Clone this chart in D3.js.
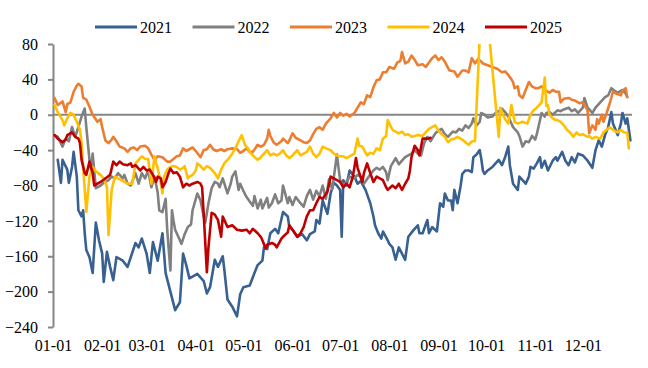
<!DOCTYPE html>
<html>
<head>
<meta charset="utf-8">
<script src="https://cdn.jsdelivr.net/npm/d3@7"></script>
<style>
  body { margin: 0; background: #fff; }
</style>
</head>
<body>
<div id="chart"></div>
<script>
// month tick labels and their day-of-year
var monthLabels = ["01-01", "02-01", "03-01", "04-01", "05-01", "06-01", "07-01", "08-01", "09-01", "10-01", "11-01", "12-01"];
var monthDays = [0, 31, 59, 90, 120, 151, 181, 212, 243, 273, 304, 334];
var yTicks = [-240, -200, -160, -120, -80, -40, 0, 40, 80];

var seriesNames = ["2021", "2022", "2023", "2024", "2025"];
var seriesColors = ["#386192", "#808080", "#ed7d31", "#ffc000", "#c00000"];

var fontFamily = "'Liberation Serif', 'Times New Roman', 'DejaVu Serif', serif";

// [day of year, value]
var s2021 = [[3,-51],[5,-77],[6,-51],[9,-62],[10,-77],[12,-59],[13,-42],[15,-70],[16,-108],[18,-115],[19,-108],[20,-134],[21,-153],[23,-161],[25,-179],[27,-122],[29,-142],[31,-157],[32,-189],[34,-155],[36,-172],[38,-187],[40,-161],[44,-165],[47,-172],[52,-145],[54,-150],[56,-140],[59,-157],[61,-179],[63,-144],[66,-165],[69,-134],[71,-179],[74,-200],[77,-221],[80,-212],[82,-157],[84,-170],[86,-185],[91,-180],[95,-188],[97,-202],[99,-195],[102,-164],[104,-172],[107,-160],[108,-175],[110,-209],[113,-217],[116,-228],[118,-203],[120,-195],[124,-193],[127,-179],[129,-170],[132,-165],[133,-150],[135,-152],[137,-134],[140,-129],[142,-134],[145,-110],[148,-115],[149,-127],[151,-130],[154,-138],[157,-135],[160,-142],[162,-135],[165,-132],[166,-119],[168,-123],[170,-97],[173,-112],[175,-89],[177,-77],[179,-80],[181,-85],[182,-138],[183,-74],[185,-80],[187,-63],[190,-70],[192,-78],[194,-75],[197,-85],[200,-100],[202,-115],[203,-125],[205,-134],[207,-140],[208,-132],[211,-142],[212,-146],[214,-150],[216,-164],[218,-150],[220,-157],[222,-164],[224,-138],[227,-131],[230,-125],[231,-134],[233,-134],[236,-119],[237,-134],[239,-127],[242,-132],[244,-100],[246,-104],[247,-89],[249,-97],[251,-97],[252,-108],[253,-85],[255,-100],[257,-80],[258,-67],[260,-63],[262,-63],[264,-65],[265,-48],[267,-45],[269,-40],[270,-50],[271,-63],[272,-67],[274,-63],[277,-59],[279,-55],[281,-51],[283,-57],[285,-48],[287,-36],[288,-57],[290,-78],[293,-85],[294,-70],[296,-74],[298,-78],[300,-70],[301,-59],[303,-61],[305,-55],[307,-48],[308,-60],[310,-52],[312,-63],[315,-52],[317,-48],[318,-52],[321,-42],[323,-52],[325,-57],[327,-48],[329,-54],[331,-44],[334,-46],[335,-48],[337,-52],[340,-60],[342,-40],[344,-29],[346,-36],[348,-23],[350,-14],[352,3],[353,-10],[356,-23],[358,-10],[359,2],[361,-10],[362,-4],[364,-29]];

var s2022 = [[1,-23],[3,-25],[6,-36],[8,-27],[10,-30],[12,-14],[14,-25],[16,-14],[18,-2],[20,7],[21,-14],[23,-51],[24,-62],[25,-44],[27,-83],[30,-80],[32,-77],[35,-74],[37,-70],[39,-72],[41,-66],[44,-72],[45,-68],[47,-78],[49,-80],[52,-66],[54,-78],[56,-66],[58,-72],[60,-63],[62,-82],[64,-70],[66,-88],[67,-108],[69,-110],[71,-95],[72,-130],[74,-176],[75,-108],[76,-120],[77,-130],[80,-142],[81,-146],[83,-135],[85,-127],[87,-124],[88,-108],[91,-89],[93,-97],[95,-115],[96,-122],[98,-100],[100,-83],[102,-76],[104,-78],[105,-82],[107,-72],[110,-89],[112,-78],[113,-70],[115,-64],[117,-85],[118,-78],[120,-86],[122,-93],[124,-98],[126,-103],[127,-92],[129,-106],[131,-96],[132,-106],[135,-94],[136,-105],[138,-100],[140,-90],[142,-100],[144,-97],[145,-80],[148,-100],[149,-93],[151,-102],[153,-93],[156,-100],[158,-104],[160,-92],[162,-85],[164,-96],[166,-86],[168,-92],[170,-80],[172,-95],[174,-73],[176,-84],[179,-45],[180,-60],[181,-74],[183,-80],[185,-76],[187,-70],[190,-72],[192,-68],[194,-70],[196,-78],[199,-70],[202,-63],[204,-60],[206,-62],[208,-59],[210,-65],[211,-74],[213,-58],[216,-49],[218,-56],[220,-52],[222,-48],[224,-46],[226,-44],[228,-40],[230,-44],[232,-46],[234,-32],[236,-25],[238,-30],[241,-21],[243,-18],[245,-16],[247,-22],[249,-25],[252,-19],[254,-20],[256,-16],[258,-18],[260,-12],[262,-15],[264,-10],[265,-4],[267,-12],[269,-8],[270,2],[272,0],[274,-3],[277,-2],[279,2],[281,4],[283,7],[285,3],[287,-2],[288,-6],[290,-14],[293,-20],[294,-24],[296,-36],[298,-30],[300,-31],[302,-24],[304,-28],[305,-22],[307,-6],[308,2],[310,-2],[311,2],[313,3],[315,0],[318,5],[320,4],[322,6],[325,8],[327,4],[329,6],[331,2],[334,8],[335,19],[337,8],[340,2],[342,8],[344,12],[346,16],[348,20],[350,22],[352,30],[354,27],[356,25],[359,28],[361,24],[362,20]];

var s2023 = [[1,19],[3,11],[6,15],[8,3],[9,12],[11,14],[13,26],[15,33],[16,35],[18,32],[19,19],[21,17],[23,9],[25,0],[28,-8],[30,-5],[31,-14],[33,-29],[35,-32],[37,-28],[38,-25],[40,-30],[42,-36],[45,-38],[47,-42],[49,-38],[51,-37],[53,-40],[55,-36],[58,-35],[60,-38],[62,-45],[64,-51],[66,-47],[69,-48],[72,-53],[74,-53],[76,-50],[78,-47],[80,-46],[82,-38],[84,-41],[86,-39],[88,-37],[90,-41],[93,-48],[95,-40],[97,-39],[99,-34],[101,-39],[103,-41],[106,-39],[108,-41],[110,-39],[113,-38],[116,-39],[118,-43],[120,-41],[122,-38],[124,-42],[126,-42],[129,-34],[131,-36],[133,-34],[135,-27],[136,-17],[137,-24],[139,-31],[141,-34],[144,-30],[145,-27],[148,-32],[149,-29],[151,-21],[153,-26],[156,-29],[158,-31],[160,-32],[162,-29],[164,-22],[166,-16],[168,-14],[170,-17],[172,-10],[175,-4],[177,2],[179,-3],[181,2],[183,-1],[185,1],[187,-2],[190,2],[192,8],[194,14],[196,12],[198,22],[200,20],[202,31],[204,39],[206,40],[208,48],[210,48],[212,54],[215,52],[217,59],[219,61],[220,71],[222,58],[224,60],[226,67],[228,62],[230,56],[233,57],[235,54],[237,59],[239,64],[241,67],[243,62],[245,65],[247,60],[249,53],[250,50],[253,49],[255,43],[258,50],[260,50],[262,48],[264,64],[266,58],[268,63],[270,60],[271,58],[274,56],[277,54],[280,52],[283,48],[285,49],[287,45],[289,40],[290,37],[291,30],[293,32],[294,22],[296,19],[298,28],[300,37],[302,32],[304,30],[306,30],[308,32],[310,28],[313,25],[315,28],[317,26],[319,26],[320,14],[322,18],[325,19],[327,17],[329,16],[331,14],[332,13],[334,14],[337,5],[338,-21],[340,-12],[342,-17],[343,-5],[344,-10],[346,0],[347,-8],[349,2],[351,13],[353,26],[355,24],[358,22],[359,27],[361,30],[362,20]];

var s2024 = [[1,11],[3,3],[6,-6],[7,-12],[9,-4],[11,2],[13,0],[15,-8],[17,-17],[18,-32],[19,-59],[21,-110],[22,-89],[23,-70],[24,-64],[25,-59],[27,-64],[30,-68],[32,-72],[34,-82],[35,-136],[37,-85],[39,-70],[41,-72],[43,-74],[45,-76],[47,-78],[50,-78],[52,-55],[54,-51],[56,-47],[58,-50],[60,-50],[62,-78],[64,-47],[65,-55],[66,-60],[68,-78],[69,-89],[70,-70],[72,-62],[74,-59],[76,-58],[78,-59],[80,-62],[82,-60],[83,-58],[85,-72],[86,-70],[88,-68],[90,-63],[91,-55],[93,-58],[95,-62],[97,-58],[99,-60],[102,-66],[104,-72],[106,-62],[108,-55],[111,-49],[113,-44],[115,-38],[117,-30],[119,-23],[121,-34],[123,-38],[124,-42],[126,-46],[129,-51],[131,-48],[132,-46],[135,-40],[137,-46],[139,-44],[141,-46],[143,-44],[145,-40],[147,-46],[149,-49],[151,-46],[154,-40],[156,-46],[158,-44],[160,-42],[162,-36],[164,-44],[166,-48],[168,-44],[170,-36],[172,-38],[175,-40],[177,-44],[179,-46],[181,-47],[183,-47],[185,-49],[187,-47],[190,-44],[192,-27],[193,-35],[195,-36],[198,-46],[200,-43],[202,-44],[204,-38],[206,-40],[208,-27],[210,-24],[211,-6],[214,-17],[216,-19],[218,-21],[220,-19],[222,-23],[224,-22],[226,-25],[228,-24],[230,-23],[233,-24],[235,-20],[237,-16],[239,-14],[241,-12],[243,-18],[245,-22],[247,-25],[249,-31],[251,-28],[253,-27],[255,-25],[258,-28],[260,-31],[262,-34],[264,-30],[266,-30],[271,165],[281,-25],[282,8],[283,3],[285,-5],[287,-10],[289,11],[291,-8],[293,-10],[296,-8],[299,-10],[301,0],[303,5],[305,8],[308,14],[310,42],[311,10],[312,11],[313,0],[315,-4],[317,-6],[318,-6],[320,-8],[322,-12],[324,-17],[326,-20],[328,-25],[330,-20],[332,-23],[334,-22],[337,-25],[338,-24],[340,-27],[342,-25],[345,-27],[347,-20],[349,-17],[351,-14],[353,-17],[356,-20],[358,-17],[360,-20],[362,-20],[363,-38]];

var s2025 = [[1,-23],[3,-27],[6,-31],[8,-28],[9,-23],[12,-20],[14,-25],[16,-27],[17,-32],[18,-51],[20,-66],[21,-68],[23,-53],[25,-66],[26,-80],[30,-76],[33,-72],[36,-68],[38,-53],[40,-57],[42,-53],[44,-56],[47,-57],[49,-55],[50,-59],[52,-57],[55,-63],[57,-59],[59,-63],[61,-62],[63,-68],[65,-76],[66,-70],[68,-72],[69,-82],[71,-76],[73,-65],[74,-61],[76,-66],[78,-65],[80,-70],[82,-82],[84,-78],[86,-80],[88,-78],[91,-76],[93,-78],[94,-82],[95,-112],[97,-178],[98,-150],[100,-111],[102,-113],[104,-119],[106,-138],[107,-115],[110,-127],[113,-125],[116,-130],[119,-131],[122,-130],[124,-134],[126,-129],[129,-134],[131,-138],[132,-142],[134,-151],[135,-147],[138,-145],[140,-147],[141,-150],[144,-140],[145,-138],[148,-133],[149,-125],[151,-130],[154,-138],[156,-134],[158,-127],[160,-115],[162,-108],[164,-108],[166,-100],[168,-93],[170,-95],[173,-87],[175,-70],[177,-72],[179,-74],[181,-76],[183,-82],[185,-78],[187,-82],[189,-70],[191,-49],[192,-60],[195,-76],[196,-66],[198,-55],[200,-66],[202,-76],[204,-70],[206,-72],[208,-74],[210,-82],[211,-85],[214,-80],[216,-83],[218,-78],[220,-85],[222,-78],[224,-72],[225,-63],[226,-48],[228,-35],[230,-40],[231,-46],[233,-27],[236,-27],[238,-26]];

var allSeries = [s2021, s2022, s2023, s2024, s2025];

// canvas settings
var width = 648, height = 368;
var plotLeft = 53, plotRight = 632, plotTop = 44, plotBottom = 327;

var svg = d3.select("#chart")
    .append("svg")
    .attr("width", width)
    .attr("height", height);

var xScale = d3.scaleLinear()
    .domain([0, 365])
    .range([plotLeft, plotRight]);

var yScale = d3.scaleLinear()
    .domain([-240, 80])
    .range([plotBottom, plotTop]);

// clip lines to the plot area (2024 spike runs off the top)
svg.append("clipPath")
    .attr("id", "plot-clip")
    .append("rect")
    .attr("x", plotLeft)
    .attr("y", plotTop)
    .attr("width", width - plotLeft)
    .attr("height", plotBottom - plotTop);

// y axis
var yAxis = d3.axisLeft(yScale)
    .tickValues(yTicks)
    .tickSize(5)
    .tickSizeOuter(0)
    .tickPadding(10);

var yG = svg.append("g")
    .attr("transform", "translate(" + plotLeft + ",0)")
    .call(yAxis);
yG.select(".domain").attr("stroke", "#868686").attr("stroke-width", 2);
yG.selectAll(".tick line").attr("stroke", "#868686").attr("stroke-width", 2);
yG.selectAll("text")
    .style("font-family", fontFamily)
    .style("font-size", "16px")
    .attr("fill", "#000");

// x axis labels (at the bottom, no line)
var xAxis = d3.axisBottom(xScale)
    .tickValues(monthDays)
    .tickSize(0)
    .tickPadding(3)
    .tickFormat(function(d, i) { return monthLabels[i]; });

var xG = svg.append("g")
    .attr("transform", "translate(0," + 337 + ")")
    .call(xAxis);
xG.select(".domain").remove();
xG.selectAll("text")
    .style("font-family", fontFamily)
    .style("font-size", "16px")
    .attr("fill", "#000");

// zero line
svg.append("line")
    .attr("x1", plotLeft)
    .attr("x2", plotRight)
    .attr("y1", yScale(0))
    .attr("y2", yScale(0))
    .attr("stroke", "#868686")
    .attr("stroke-width", 2);

// series lines
var line = d3.line()
    .x(function(d) { return xScale(d[0]); })
    .y(function(d) { return yScale(d[1]); });

svg.append("g")
    .attr("clip-path", "url(#plot-clip)")
    .selectAll("path")
    .data(allSeries)
    .enter()
    .append("path")
    .attr("d", line)
    .attr("fill", "none")
    .attr("stroke", function(d, i) { return seriesColors[i]; })
    .attr("stroke-width", 2.6)
    .attr("stroke-linejoin", "round")
    .attr("stroke-linecap", "round");

// legend
var legend = svg.append("g")
    .selectAll("g")
    .data(seriesNames)
    .enter()
    .append("g")
    .attr("transform", function(d, i) { return "translate(" + (95 + i * 97.5) + ",27)"; });

legend.append("line")
    .attr("x1", 0)
    .attr("x2", 42)
    .attr("stroke", function(d, i) { return seriesColors[i]; })
    .attr("stroke-width", 3);

legend.append("text")
    .attr("x", 45)
    .attr("y", 5.5)
    .style("font-family", fontFamily)
    .style("font-size", "16px")
    .text(function(d) { return d; });
</script>
</body>
</html>
